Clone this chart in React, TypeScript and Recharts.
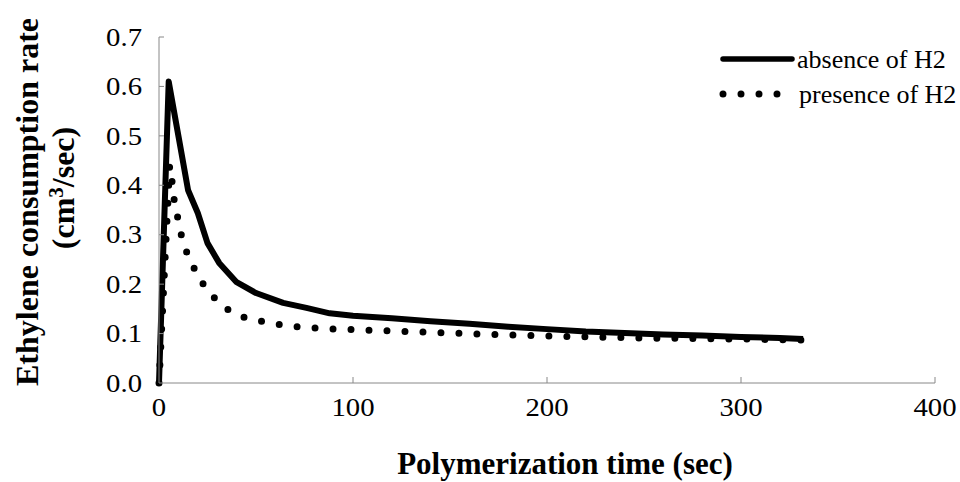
import { LineChart, Line, XAxis, YAxis, Customized } from 'recharts'

const absenceTime = [0, 5, 10, 15, 20, 25, 31, 40, 50, 64, 76, 88, 100, 120, 140, 160, 180, 200, 220, 240, 260, 280, 300, 320, 332]
const absenceRate = [0, 0.61, 0.5, 0.39, 0.344, 0.283, 0.243, 0.204, 0.182, 0.162, 0.152, 0.141, 0.136, 0.131, 0.125, 0.12, 0.114, 0.109, 0.104, 0.101, 0.098, 0.096, 0.093, 0.091, 0.089]

const presenceTime = [0, 5.5, 7, 8, 10, 12, 15, 19, 24, 30, 37, 45, 55, 64, 73, 82, 91, 100, 150, 200, 250, 300, 332]
const presenceRate = [0, 0.44, 0.4, 0.364, 0.328, 0.29, 0.257, 0.225, 0.192, 0.166, 0.144, 0.131, 0.123, 0.117, 0.113, 0.111, 0.109, 0.108, 0.101, 0.095, 0.091, 0.089, 0.087]

const xTicks = [0, 100, 200, 300, 400]
const yTicks = [0, 0.1, 0.2, 0.3, 0.4, 0.5, 0.6, 0.7]

const absenceData = absenceTime.map((t, i) => ({ t, v: absenceRate[i] }))
const presenceData = presenceTime.map((t, i) => ({ t, v: presenceRate[i] }))

const FONT = '"Liberation Serif", "Times New Roman", serif'
const AXIS = '#888'
const PLOT_LEFT = 159
const PLOT_BOTTOM = 383

// the original's glyphs are a bit wider than Liberation Serif
const WIDE = 1.15

function YTick(props: any) {
  const { x, y, payload } = props
  return (
    <g>
      {payload.value > 0 && (
        <line x1={PLOT_LEFT} x2={PLOT_LEFT + 5} y1={y} y2={y} stroke={AXIS} />
      )}
      <text transform={`translate(${x},${y}) scale(${WIDE},1)`} dy="0.35em" textAnchor="end" fontFamily={FONT} fontSize={25} fill="#000">
        {payload.value.toFixed(1)}
      </text>
    </g>
  )
}

function XTick(props: any) {
  const { x, y, payload } = props
  return (
    <g>
      {payload.value > 0 && (
        <line x1={x} x2={x} y1={PLOT_BOTTOM} y2={PLOT_BOTTOM - 6} stroke={AXIS} />
      )}
      <text transform={`translate(${x},${y}) scale(${WIDE},1)`} dy="0.71em" textAnchor="middle" fontFamily={FONT} fontSize={25} fill="#000">
        {payload.value}
      </text>
    </g>
  )
}

function Titles() {
  return (
    <g fontFamily={FONT} fontWeight="bold" fill="#000">
      <text x={565} y={474} textAnchor="middle" fontSize={31}>Polymerization time (sec)</text>
      <text transform="translate(38,202) rotate(-90)" textAnchor="middle" fontSize={32}>Ethylene consumption rate</text>
      <text transform="translate(74,188) rotate(-90)" textAnchor="middle" fontSize={32}>
        (cm<tspan dy={-11} fontSize={21}>3</tspan><tspan dy={11}>/sec)</tspan>
      </text>
    </g>
  )
}

function LegendBox() {
  return (
    <g fontFamily={FONT} fontSize={26} fill="#000">
      <line x1={723} x2={792} y1={59} y2={59} stroke="#000" strokeWidth={5.5} strokeLinecap="round" />
      <text x={797} y={59} dy="0.35em">absence of H2</text>
      <line x1={723} x2={780} y1={94} y2={94} stroke="#000" strokeWidth={7} strokeLinecap="round" strokeDasharray="0 18" />
      <text x={799} y={94} dy="0.35em">presence of H2</text>
    </g>
  )
}

export default function App() {
  return (
    <div style={{ position: 'absolute', left: 0, top: 0, width: 960, height: 482, background: '#fff' }}>
      <LineChart width={960} height={482} margin={{ top: 37, right: 25, bottom: 39, left: 90 }}>
        <XAxis
          type="number"
          dataKey="t"
          domain={[0, 400]}
          ticks={xTicks}
          stroke={AXIS}
          tickLine={false}
          tickSize={0}
          tickMargin={15}
          height={60}
          tick={<XTick />}
          allowDuplicatedCategory={false}
        />
        <YAxis
          type="number"
          dataKey="v"
          domain={[0, 0.7]}
          ticks={yTicks}
          stroke={AXIS}
          tickLine={false}
          tickSize={0}
          tickMargin={17}
          width={69}
          tick={<YTick />}
        />
        <Line
          data={absenceData}
          dataKey="v"
          type="linear"
          stroke="#000"
          strokeWidth={6}
          strokeLinejoin="round"
          dot={false}
          isAnimationActive={false}
        />
        <Line
          data={presenceData}
          dataKey="v"
          type="linear"
          stroke="#000"
          strokeWidth={7}
          strokeLinecap="round"
          strokeDasharray="0 18"
          dot={false}
          isAnimationActive={false}
        />
        <Customized component={Titles} />
        <Customized component={LegendBox} />
      </LineChart>
    </div>
  )
}
